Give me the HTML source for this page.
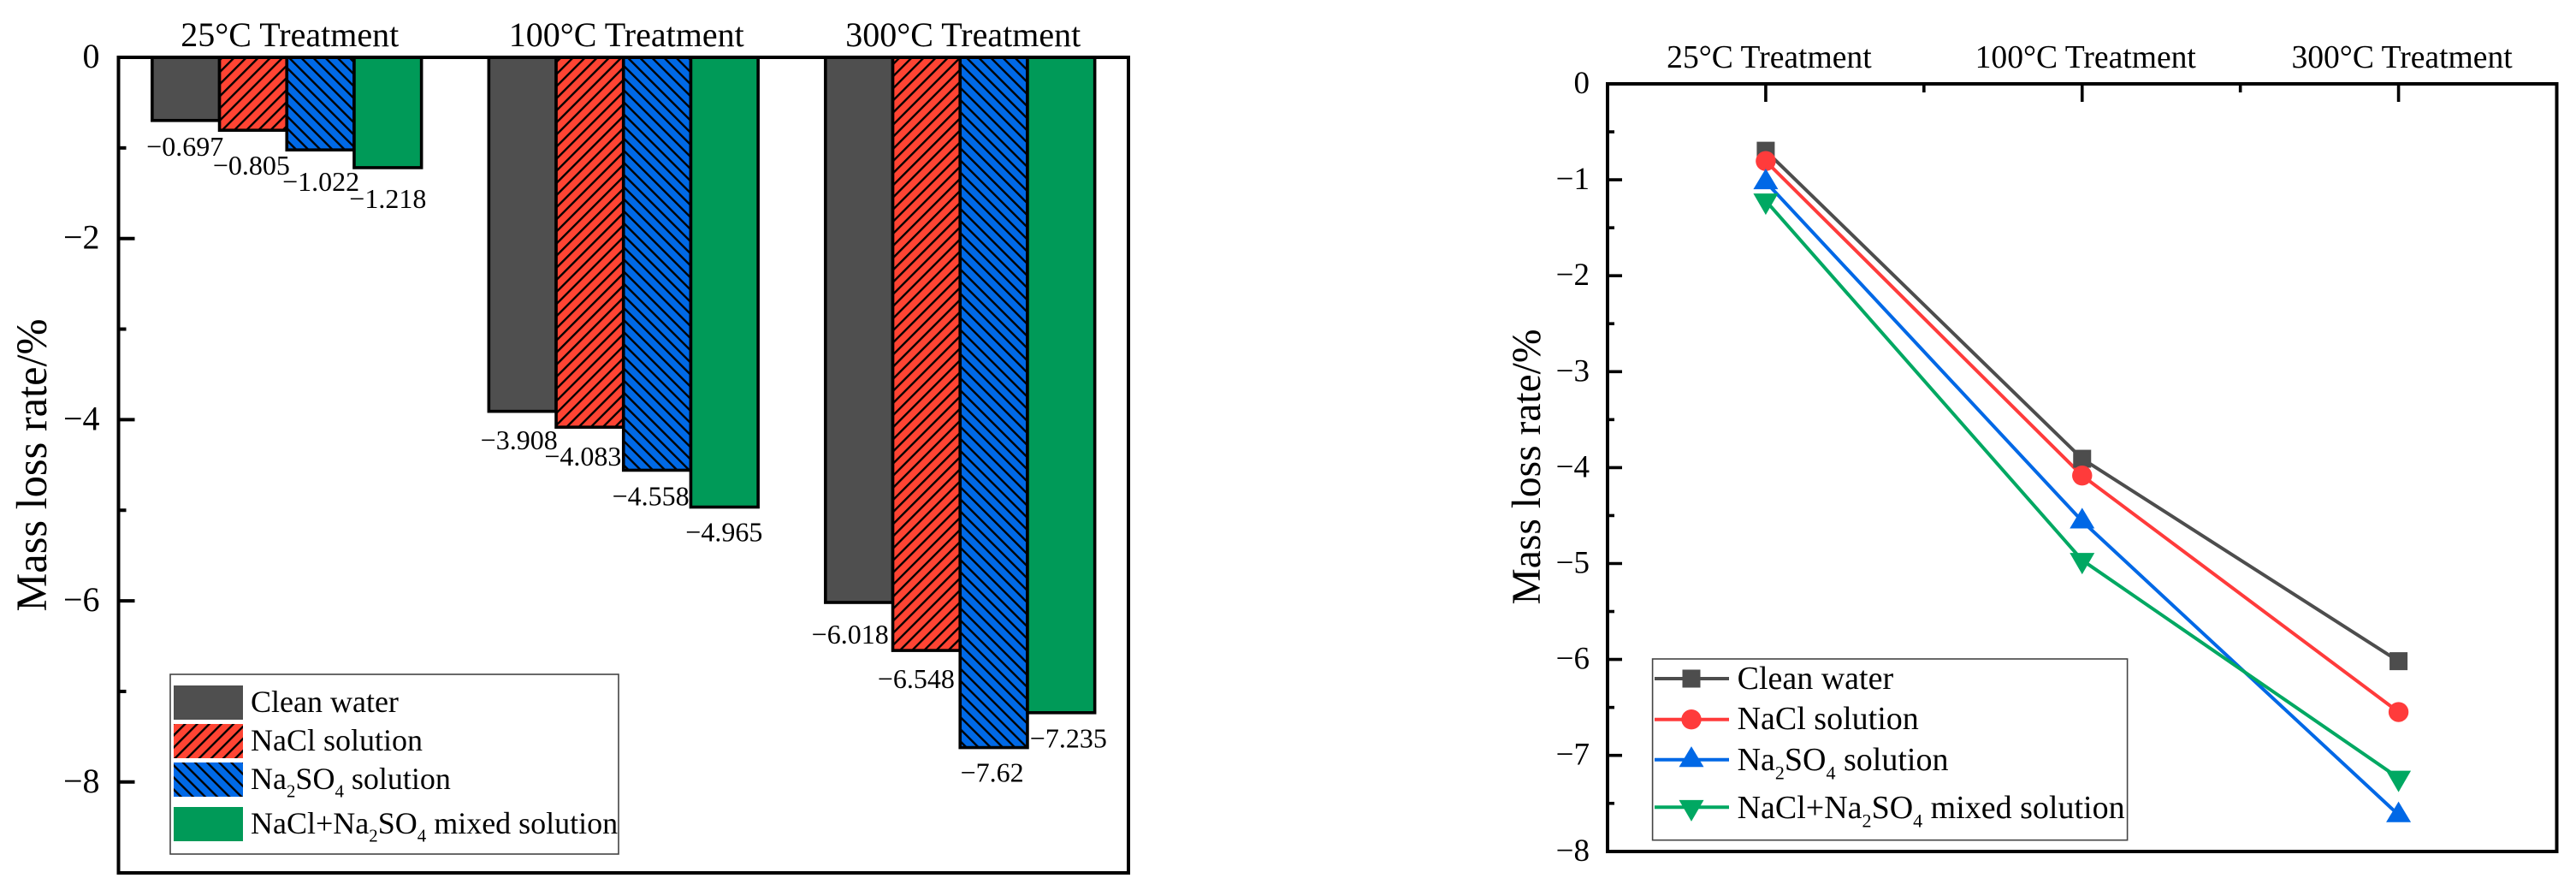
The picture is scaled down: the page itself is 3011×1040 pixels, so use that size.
<!DOCTYPE html>
<html lang="en">
<head>
<meta charset="utf-8">
<title>Mass loss rate charts</title>
<style>
html,body{margin:0;padding:0;background:#fff;}
svg{display:block;}
text{font-family:"Liberation Serif",serif;fill:#000;}
</style>
</head>
<body>
<svg id="figure" xmlns="http://www.w3.org/2000/svg" width="3011" height="1040" viewBox="0 0 3011 1040">
  <defs>
    <pattern id="hatch-red" patternUnits="userSpaceOnUse" width="10" height="10" patternTransform="rotate(45)">
      <rect width="10" height="10" fill="#ff4433"></rect>
      <rect width="2.4" height="10" fill="#000"></rect>
    </pattern>
    <pattern id="hatch-blue" patternUnits="userSpaceOnUse" width="10" height="10" patternTransform="rotate(-45)">
      <rect width="10" height="10" fill="#0069e6"></rect>
      <rect width="2.4" height="10" fill="#000"></rect>
    </pattern>
  </defs>
</svg>
<script>
// ---- chart data ----
const categories = ['25°C Treatment', '100°C Treatment', '300°C Treatment'];
const legendLabels = ['Clean water', 'NaCl solution', 'Na_2SO_4 solution', 'NaCl+Na_2SO_4 mixed solution'];
const cleanWater = [-0.697, -3.908, -6.018];
const naclSolution = [-0.805, -4.083, -6.548];
const na2so4Solution = [-1.022, -4.558, -7.62];
const mixedSolution = [-1.218, -4.965, -7.235];
const barTicks = [0, -2, -4, -6, -8];
const barMinorTicks = [-1, -3, -5, -7];
const lineTicks = [0, -1, -2, -3, -4, -5, -6, -7, -8];
const lineMinorTicks = [-0.5, -1.5, -2.5, -3.5, -4.5, -5.5, -6.5, -7.5];
const series = [cleanWater, naclSolution, na2so4Solution, mixedSolution];

const NS = 'http://www.w3.org/2000/svg';
const fig = document.getElementById('figure');

function mk(tag, attrs, parent) {
  const el = document.createElementNS(NS, tag);
  for (const k in attrs) el.setAttribute(k, attrs[k]);
  (parent || fig).appendChild(el);
  return el;
}
function fmt(v) { return '\u2212' + String(Math.abs(v)); }
function fillRich(textEl, label, size) {
  const parts = label.split(/_(\d)/);
  let shifted = false;
  parts.forEach(function (p, i) {
    if (p === '') return;
    const isSub = i % 2 === 1;
    const attrs = {};
    if (isSub) { attrs['font-size'] = size * 0.58; attrs['dy'] = size * 0.27; shifted = true; }
    else if (shifted) { attrs['dy'] = -size * 0.27; shifted = false; }
    const t = mk('tspan', attrs, textEl);
    t.textContent = p;
  });
}

// ---- bar chart ----
(function drawBars() {
  const g = mk('g', {});
  
  

  const L = 138.5, R = 1319, T = 67, B = 1020;
  const yUnit = 105.85;
  const y = function (v) { return T - v * yUnit; };
  const step = (R - L) / categories.length;
  const x = function (i) { return L + step * (i + 0.5); };
  const barW = step * 0.2;
  const fills = ['#4f4f4f', 'url(#hatch-red)', 'url(#hatch-blue)', '#009a58'];
  const barKeys = ['clean-water', 'nacl', 'na2so4', 'mixed'];
  // manual label placement (dx, dy from the end of each value's bar)
  const nudgeX = [[-1, -2, 0.5, 0], [-4, -8, -7.5, -0.5], [-10.5, -12, -2, 8.5]];
  const nudgeY = [[41, 52, 48, 47], [44.5, 45, 41, 40], [48, 44, 40, 40.5]];

  categories.forEach(function (c, i) {
    series.forEach(function (vals, s) {
      const cx = x(i) + (s - 1.5) * barW;
      const bar = mk('rect', {
        x: cx - barW / 2, y: T, width: barW, height: y(vals[i]) - T,
        fill: fills[s], stroke: '#000', 'stroke-width': 3.6
      }, g);
      
      
    });
  });
  categories.forEach(function (c, i) {
    series.forEach(function (vals, s) {
      const cx = x(i) + (s - 1.5) * barW;
      const lab = mk('text', {
        x: cx + nudgeX[i][s], y: y(vals[i]) + nudgeY[i][s],
        'font-size': 32, 'text-anchor': 'middle'
      }, g);
      
      
      lab.textContent = fmt(vals[i]);
    });
    const cat = mk('text', { x: x(i) + 3.5, y: 54, 'font-size': 40, 'text-anchor': 'middle' }, g);
    
    
    cat.textContent = c;
  });

  const frame = mk('rect', { x: L, y: T, width: R - L, height: B - T, fill: 'none', stroke: '#000', 'stroke-width': 4 }, g);
  
  

  barTicks.forEach(function (v) {
    if (v !== 0) {
      const t = mk('line', { x1: L, x2: L + 19, y1: y(v), y2: y(v), stroke: '#000', 'stroke-width': 4 }, g);
      
      
    }
    const lab = mk('text', { x: 116.5, y: y(v) + 12, 'font-size': 40, 'text-anchor': 'end' }, g);
    
    
    lab.textContent = v === 0 ? '0' : fmt(v);
  });
  barMinorTicks.forEach(function (v) {
    const t = mk('line', { x1: L, x2: L + 9, y1: y(v), y2: y(v), stroke: '#000', 'stroke-width': 4 }, g);
    
    
  });

  const title = mk('text', { 'font-size': 50.5, 'text-anchor': 'middle', transform: 'translate(54,543.5) rotate(-90)' }, g);
  
  
  title.textContent = 'Mass loss rate/%';

  // legend
  const lg = mk('g', {}, g);
  
  
  const box = mk('rect', { x: 199, y: 788, width: 524, height: 210, fill: '#fff', stroke: '#444', 'stroke-width': 1.6 }, lg);
  
  
  const swatchY = [801, 846, 891, 943];
  const textY = [832, 877, 922, 974];
  legendLabels.forEach(function (label, s) {
    const sw = mk('rect', { x: 203, y: swatchY[s], width: 81, height: 40, fill: fills[s] }, lg);
    
    
    const tx = mk('text', { x: 293, y: textY[s], 'font-size': 36 }, lg);
    
    
    fillRich(tx, label, 36);
  });
})();

// ---- line chart ----
(function drawLines() {
  const g = mk('g', {});
  
  

  const L = 1879, R = 2988.5, T = 98, B = 995;
  const yUnit = 112.1;
  const y = function (v) { return T - v * yUnit; };
  const step = (R - L) / categories.length;
  const x = function (i) { return L + step * (i + 0.5); };
  const colors = ['#4d4d4d', '#ff3b3b', '#0068e6', '#00a862'];
  const keys = ['clean-water', 'nacl', 'na2so4', 'mixed'];

  function marker(kind, cx, cy, color, parent) {
    if (kind === 0) return mk('rect', { x: cx - 10.5, y: cy - 10.5, width: 21, height: 21, fill: color }, parent);
    if (kind === 1) return mk('circle', { cx: cx, cy: cy, r: 11.7, fill: color }, parent);
    if (kind === 2) return mk('polygon', { points: (cx - 14.5) + ',' + (cy + 8.6) + ' ' + (cx + 14.5) + ',' + (cy + 8.6) + ' ' + cx + ',' + (cy - 15.6), fill: color }, parent);
    return mk('polygon', { points: (cx - 14.5) + ',' + (cy - 8.4) + ' ' + (cx + 14.5) + ',' + (cy - 8.4) + ' ' + cx + ',' + (cy + 16.6), fill: color }, parent);
  }

  series.forEach(function (vals, s) {
    const pts = vals.map(function (v, i) { return x(i) + ',' + y(v); }).join(' ');
    const line = mk('polyline', { points: pts, fill: 'none', stroke: colors[s], 'stroke-width': 4 }, g);
    
    
  });
  series.forEach(function (vals, s) {
    vals.forEach(function (v, i) {
      const m = marker(s, x(i), y(v), colors[s], g);
      
      
    });
  });

  const frame = mk('rect', { x: L, y: T, width: R - L, height: B - T, fill: 'none', stroke: '#000', 'stroke-width': 4 }, g);
  
  

  categories.forEach(function (c, i) {
    const t = mk('line', { x1: x(i), x2: x(i), y1: T, y2: T + 21, stroke: '#000', 'stroke-width': 3.6 }, g);
    
    
    if (i < categories.length - 1) {
      const mt = mk('line', { x1: x(i + 0.5), x2: x(i + 0.5), y1: T, y2: T + 10, stroke: '#000', 'stroke-width': 3.6 }, g);
      
      
    }
    const cat = mk('text', { x: x(i) + 4, y: 79, 'font-size': 37.6, 'text-anchor': 'middle' }, g);
    
    
    cat.textContent = c;
  });

  lineTicks.forEach(function (v) {
    if (v !== 0 && v !== -8) {
      const t = mk('line', { x1: L, x2: L + 17, y1: y(v), y2: y(v), stroke: '#000', 'stroke-width': 3.6 }, g);
      
      
    }
    const lab = mk('text', { x: 1858, y: y(v) + 11, 'font-size': 37, 'text-anchor': 'end' }, g);
    
    
    lab.textContent = v === 0 ? '0' : fmt(v);
  });
  lineMinorTicks.forEach(function (v) {
    const t = mk('line', { x1: L, x2: L + 8, y1: y(v), y2: y(v), stroke: '#000', 'stroke-width': 3.6 }, g);
    
    
  });

  const title = mk('text', { 'font-size': 47.5, 'text-anchor': 'middle', transform: 'translate(1800,545.5) rotate(-90)' }, g);
  
  
  title.textContent = 'Mass loss rate/%';

  // legend
  const lg = mk('g', {}, g);
  
  
  const box = mk('rect', { x: 1931.6, y: 770, width: 555, height: 211.7, fill: '#fff', stroke: '#444', 'stroke-width': 1.6 }, lg);
  
  
  const lineY = [793, 840.7, 887.7, 943.3];
  const textY = [805, 852, 900, 956];
  legendLabels.forEach(function (label, s) {
    const ln = mk('line', { x1: 1934, x2: 2021, y1: lineY[s], y2: lineY[s], stroke: colors[s], 'stroke-width': 4 }, lg);
    
    
    const m = marker(s, 1977, lineY[s], colors[s], lg);
    
    
    const tx = mk('text', { x: 2030.6, y: textY[s], 'font-size': 38 }, lg);
    
    
    fillRich(tx, label, 38);
  });
})();
</script>
</body>
</html>
